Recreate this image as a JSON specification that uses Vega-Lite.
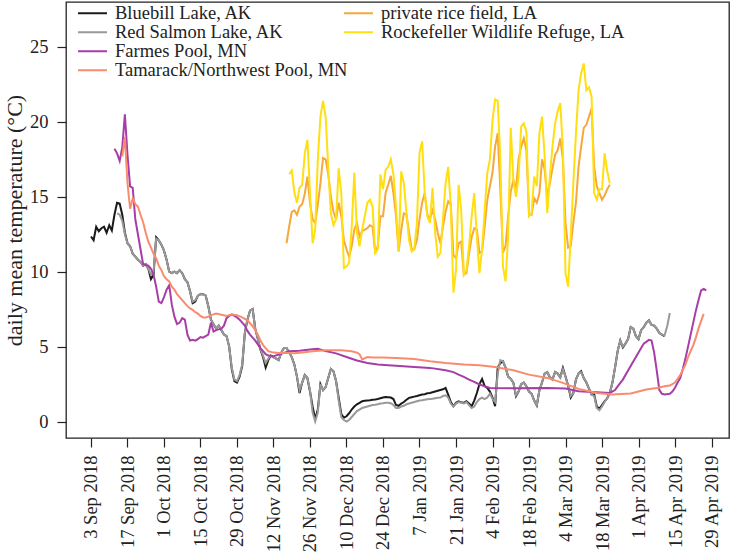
{
"$schema":"https://vega.github.io/schema/vega-lite/v6.json",
"width":663,"height":436,
"autosize":{"type":"none"},
"padding":{"left":66,"top":2,"right":2,"bottom":114},
"background":"white",
"config":{
 "font":"Liberation Serif",
 "view":{"stroke":"#222222","strokeWidth":1.3},
 "axis":{"grid":false,"domain":false,"tickColor":"#222222","tickWidth":1.2,"tickSize":9,"labelFont":"Liberation Serif","labelFontSize":18.5,"labelColor":"#222222","titleFont":"Liberation Serif","titleFontSize":22,"titleFontWeight":"normal","titleColor":"#222222"},
 "legend":{"orient":"none","title":null,"symbolType":"stroke","symbolSize":841,"symbolStrokeWidth":2,"labelFont":"Liberation Serif","labelFontSize":18.5,"labelColor":"#222222","labelOffset":7,"rowPadding":0,"padding":0,"clipHeight":18.7,"labelLimit":400}
},
"datasets":{
 "sites":[{"s":"B","name":"Bluebill Lake, AK"},{"s":"R","name":"Red Salmon Lake, AK"},{"s":"F","name":"Farmes Pool, MN"},{"s":"T","name":"Tamarack/Northwest Pool, MN"},{"s":"P","name":"private rice field, LA"},{"s":"K","name":"Rockefeller Wildlife Refuge, LA"}],
 "temps":[
{"s":"B","d":"2018-09-03","t":12.35},{"s":"B","d":"2018-09-04","t":12.1},{"s":"B","d":"2018-09-05","t":13.0},{"s":"B","d":"2018-09-06","t":12.7},{"s":"B","d":"2018-09-07","t":12.9},{"s":"B","d":"2018-09-08","t":13.0},{"s":"B","d":"2018-09-09","t":12.6},{"s":"B","d":"2018-09-10","t":13.1},{"s":"B","d":"2018-09-11","t":12.75},{"s":"B","d":"2018-09-12","t":13.8},{"s":"B","d":"2018-09-13","t":14.6},{"s":"B","d":"2018-09-14","t":14.55},{"s":"B","d":"2018-09-15","t":13.8},{"s":"B","d":"2018-09-16","t":12.6},{"s":"B","d":"2018-09-17","t":11.9},{"s":"B","d":"2018-09-18","t":11.7},{"s":"B","d":"2018-09-19","t":11.2},{"s":"B","d":"2018-09-20","t":11.0},{"s":"B","d":"2018-09-21","t":10.8},{"s":"B","d":"2018-09-22","t":10.65},{"s":"B","d":"2018-09-23","t":10.4},{"s":"B","d":"2018-09-24","t":10.5},{"s":"B","d":"2018-09-25","t":10.2},{"s":"B","d":"2018-09-26","t":9.5},{"s":"B","d":"2018-09-27","t":9.8},{"s":"B","d":"2018-09-28","t":12.3},{"s":"B","d":"2018-09-29","t":12.1},{"s":"B","d":"2018-09-30","t":11.8},
{"s":"B","d":"2018-10-01","t":11.4},{"s":"B","d":"2018-10-02","t":10.8},{"s":"B","d":"2018-10-03","t":10.0},{"s":"B","d":"2018-10-04","t":9.9},{"s":"B","d":"2018-10-05","t":10.0},{"s":"B","d":"2018-10-06","t":9.9},{"s":"B","d":"2018-10-07","t":10.1},{"s":"B","d":"2018-10-08","t":9.9},{"s":"B","d":"2018-10-09","t":9.5},{"s":"B","d":"2018-10-10","t":9.3},{"s":"B","d":"2018-10-11","t":8.7},{"s":"B","d":"2018-10-12","t":7.9},{"s":"B","d":"2018-10-13","t":8.0},{"s":"B","d":"2018-10-14","t":8.4},{"s":"B","d":"2018-10-15","t":8.5},{"s":"B","d":"2018-10-16","t":8.5},{"s":"B","d":"2018-10-17","t":8.4},{"s":"B","d":"2018-10-18","t":7.7},{"s":"B","d":"2018-10-19","t":6.8},{"s":"B","d":"2018-10-20","t":6.5},{"s":"B","d":"2018-10-21","t":6.2},{"s":"B","d":"2018-10-22","t":6.4},{"s":"B","d":"2018-10-23","t":6.1},{"s":"B","d":"2018-10-24","t":5.8},{"s":"B","d":"2018-10-25","t":5.7},{"s":"B","d":"2018-10-26","t":5.0},{"s":"B","d":"2018-10-27","t":3.5},{"s":"B","d":"2018-10-28","t":2.7},{"s":"B","d":"2018-10-29","t":2.6},{"s":"B","d":"2018-10-30","t":3.0},{"s":"B","d":"2018-10-31","t":3.7},
{"s":"B","d":"2018-11-01","t":5.9},{"s":"B","d":"2018-11-02","t":6.8},{"s":"B","d":"2018-11-03","t":7.4},{"s":"B","d":"2018-11-04","t":7.5},{"s":"B","d":"2018-11-05","t":6.2},{"s":"B","d":"2018-11-06","t":5.5},{"s":"B","d":"2018-11-07","t":4.8},{"s":"B","d":"2018-11-08","t":4.3},{"s":"B","d":"2018-11-09","t":3.6},{"s":"B","d":"2018-11-10","t":4.1},{"s":"B","d":"2018-11-11","t":4.4},{"s":"B","d":"2018-11-12","t":4.3},{"s":"B","d":"2018-11-13","t":4.2},{"s":"B","d":"2018-11-14","t":4.1},{"s":"B","d":"2018-11-15","t":4.6},{"s":"B","d":"2018-11-16","t":4.9},{"s":"B","d":"2018-11-17","t":4.9},{"s":"B","d":"2018-11-18","t":4.6},{"s":"B","d":"2018-11-19","t":4.3},{"s":"B","d":"2018-11-20","t":3.8},{"s":"B","d":"2018-11-21","t":3.0},{"s":"B","d":"2018-11-22","t":1.9},{"s":"B","d":"2018-11-23","t":2.6},{"s":"B","d":"2018-11-24","t":3.1},{"s":"B","d":"2018-11-25","t":2.9},{"s":"B","d":"2018-11-26","t":2.0},{"s":"B","d":"2018-11-27","t":1.0},{"s":"B","d":"2018-11-28","t":0.15},{"s":"B","d":"2018-11-29","t":0.8},{"s":"B","d":"2018-11-30","t":2.5},
{"s":"B","d":"2018-12-01","t":2.1},{"s":"B","d":"2018-12-02","t":2.3},{"s":"B","d":"2018-12-03","t":2.9},{"s":"B","d":"2018-12-04","t":3.5},{"s":"B","d":"2018-12-05","t":3.35},{"s":"B","d":"2018-12-06","t":2.7},{"s":"B","d":"2018-12-07","t":1.6},{"s":"B","d":"2018-12-08","t":0.5},{"s":"B","d":"2018-12-09","t":0.25},{"s":"B","d":"2018-12-10","t":0.35},{"s":"B","d":"2018-12-11","t":0.55},{"s":"B","d":"2018-12-12","t":0.8},{"s":"B","d":"2018-12-13","t":1.0},{"s":"B","d":"2018-12-14","t":1.15},{"s":"B","d":"2018-12-15","t":1.25},{"s":"B","d":"2018-12-16","t":1.35},{"s":"B","d":"2018-12-17","t":1.38},{"s":"B","d":"2018-12-18","t":1.4},{"s":"B","d":"2018-12-19","t":1.42},{"s":"B","d":"2018-12-20","t":1.45},{"s":"B","d":"2018-12-21","t":1.47},{"s":"B","d":"2018-12-22","t":1.5},{"s":"B","d":"2018-12-23","t":1.55},{"s":"B","d":"2018-12-24","t":1.6},{"s":"B","d":"2018-12-25","t":1.64},{"s":"B","d":"2018-12-26","t":1.62},{"s":"B","d":"2018-12-27","t":1.6},{"s":"B","d":"2018-12-28","t":1.5},{"s":"B","d":"2018-12-29","t":1.1},{"s":"B","d":"2018-12-30","t":1.05},{"s":"B","d":"2018-12-31","t":1.2},
{"s":"B","d":"2019-01-01","t":1.3},{"s":"B","d":"2019-01-02","t":1.45},{"s":"B","d":"2019-01-03","t":1.58},{"s":"B","d":"2019-01-04","t":1.62},{"s":"B","d":"2019-01-05","t":1.66},{"s":"B","d":"2019-01-06","t":1.7},{"s":"B","d":"2019-01-07","t":1.75},{"s":"B","d":"2019-01-08","t":1.8},{"s":"B","d":"2019-01-09","t":1.82},{"s":"B","d":"2019-01-10","t":1.88},{"s":"B","d":"2019-01-11","t":1.9},{"s":"B","d":"2019-01-12","t":1.95},{"s":"B","d":"2019-01-13","t":2.0},{"s":"B","d":"2019-01-14","t":2.05},{"s":"B","d":"2019-01-15","t":2.1},{"s":"B","d":"2019-01-16","t":2.15},{"s":"B","d":"2019-01-17","t":2.24},{"s":"B","d":"2019-01-18","t":1.8},{"s":"B","d":"2019-01-19","t":1.3},{"s":"B","d":"2019-01-20","t":1.02},{"s":"B","d":"2019-01-21","t":1.25},{"s":"B","d":"2019-01-22","t":1.35},{"s":"B","d":"2019-01-23","t":1.28},{"s":"B","d":"2019-01-24","t":1.24},{"s":"B","d":"2019-01-25","t":1.35},{"s":"B","d":"2019-01-26","t":1.2},{"s":"B","d":"2019-01-27","t":1.02},{"s":"B","d":"2019-01-28","t":1.4},{"s":"B","d":"2019-01-29","t":1.9},{"s":"B","d":"2019-01-30","t":2.5},{"s":"B","d":"2019-01-31","t":2.84},
{"s":"B","d":"2019-02-01","t":2.36},{"s":"B","d":"2019-02-02","t":2.24},{"s":"B","d":"2019-02-03","t":2.0},{"s":"B","d":"2019-02-04","t":1.6},{"s":"B","d":"2019-02-05","t":1.02},{"s":"B","d":"2019-02-06","t":3.6},{"s":"B","d":"2019-02-07","t":3.9},{"s":"B","d":"2019-02-08","t":4.02},{"s":"B","d":"2019-02-09","t":3.6},{"s":"B","d":"2019-02-10","t":3.0},{"s":"B","d":"2019-02-11","t":2.85},{"s":"B","d":"2019-02-12","t":2.6},{"s":"B","d":"2019-02-13","t":1.69},{"s":"B","d":"2019-02-14","t":2.0},{"s":"B","d":"2019-02-15","t":2.5},{"s":"B","d":"2019-02-16","t":2.6},{"s":"B","d":"2019-02-17","t":2.36},{"s":"B","d":"2019-02-18","t":2.0},{"s":"B","d":"2019-02-19","t":1.85},{"s":"B","d":"2019-02-20","t":1.4},{"s":"B","d":"2019-02-21","t":1.07},{"s":"B","d":"2019-02-22","t":2.1},{"s":"B","d":"2019-02-23","t":2.6},{"s":"B","d":"2019-02-24","t":3.2},{"s":"B","d":"2019-02-25","t":3.3},{"s":"B","d":"2019-02-26","t":2.95},{"s":"B","d":"2019-02-27","t":2.8},{"s":"B","d":"2019-02-28","t":3.3},
{"s":"B","d":"2019-03-01","t":3.2},{"s":"B","d":"2019-03-02","t":2.95},{"s":"B","d":"2019-03-03","t":3.58},{"s":"B","d":"2019-03-04","t":3.0},{"s":"B","d":"2019-03-05","t":2.4},{"s":"B","d":"2019-03-06","t":1.6},{"s":"B","d":"2019-03-07","t":1.9},{"s":"B","d":"2019-03-08","t":2.8},{"s":"B","d":"2019-03-09","t":3.2},{"s":"B","d":"2019-03-10","t":3.36},{"s":"B","d":"2019-03-11","t":2.9},{"s":"B","d":"2019-03-12","t":2.6},{"s":"B","d":"2019-03-13","t":2.2},{"s":"B","d":"2019-03-14","t":1.8},{"s":"B","d":"2019-03-15","t":1.8},{"s":"B","d":"2019-03-16","t":1.0},{"s":"B","d":"2019-03-17","t":0.85},{"s":"B","d":"2019-03-18","t":1.1},{"s":"B","d":"2019-03-19","t":1.35},{"s":"B","d":"2019-03-20","t":1.55},{"s":"B","d":"2019-03-21","t":1.9},{"s":"B","d":"2019-03-22","t":2.6},{"s":"B","d":"2019-03-23","t":3.6},{"s":"B","d":"2019-03-24","t":4.7},{"s":"B","d":"2019-03-25","t":5.4},{"s":"B","d":"2019-03-26","t":4.95},{"s":"B","d":"2019-03-27","t":5.2},{"s":"B","d":"2019-03-28","t":5.5},{"s":"B","d":"2019-03-29","t":6.3},{"s":"B","d":"2019-03-30","t":6.2},{"s":"B","d":"2019-03-31","t":5.7},
{"s":"B","d":"2019-04-01","t":5.5},{"s":"B","d":"2019-04-02","t":6.1},{"s":"B","d":"2019-04-03","t":6.3},{"s":"B","d":"2019-04-04","t":6.6},{"s":"B","d":"2019-04-05","t":6.75},{"s":"B","d":"2019-04-06","t":6.45},{"s":"B","d":"2019-04-07","t":6.4},{"s":"B","d":"2019-04-08","t":6.2},{"s":"B","d":"2019-04-09","t":5.9},{"s":"B","d":"2019-04-10","t":5.8},{"s":"B","d":"2019-04-11","t":5.7},

{"s":"R","d":"2018-09-13","t":13.9},{"s":"R","d":"2018-09-14","t":13.8},{"s":"R","d":"2018-09-15","t":13.4},{"s":"R","d":"2018-09-16","t":12.5},{"s":"R","d":"2018-09-17","t":11.9},{"s":"R","d":"2018-09-18","t":11.7},{"s":"R","d":"2018-09-19","t":11.2},{"s":"R","d":"2018-09-20","t":11.0},{"s":"R","d":"2018-09-21","t":10.8},{"s":"R","d":"2018-09-22","t":10.65},{"s":"R","d":"2018-09-23","t":10.4},{"s":"R","d":"2018-09-24","t":10.5},{"s":"R","d":"2018-09-25","t":10.2},{"s":"R","d":"2018-09-26","t":9.8},{"s":"R","d":"2018-09-27","t":10.0},{"s":"R","d":"2018-09-28","t":12.2},{"s":"R","d":"2018-09-29","t":12.1},{"s":"R","d":"2018-09-30","t":11.8},
{"s":"R","d":"2018-10-01","t":11.4},{"s":"R","d":"2018-10-02","t":10.8},{"s":"R","d":"2018-10-03","t":10.0},{"s":"R","d":"2018-10-04","t":9.9},{"s":"R","d":"2018-10-05","t":10.0},{"s":"R","d":"2018-10-06","t":9.9},{"s":"R","d":"2018-10-07","t":10.1},{"s":"R","d":"2018-10-08","t":9.9},{"s":"R","d":"2018-10-09","t":9.5},{"s":"R","d":"2018-10-10","t":9.3},{"s":"R","d":"2018-10-11","t":8.7},{"s":"R","d":"2018-10-12","t":8.0},{"s":"R","d":"2018-10-13","t":8.1},{"s":"R","d":"2018-10-14","t":8.4},{"s":"R","d":"2018-10-15","t":8.5},{"s":"R","d":"2018-10-16","t":8.5},{"s":"R","d":"2018-10-17","t":8.4},{"s":"R","d":"2018-10-18","t":7.7},{"s":"R","d":"2018-10-19","t":6.8},{"s":"R","d":"2018-10-20","t":6.5},{"s":"R","d":"2018-10-21","t":6.2},{"s":"R","d":"2018-10-22","t":6.4},{"s":"R","d":"2018-10-23","t":6.1},{"s":"R","d":"2018-10-24","t":5.8},{"s":"R","d":"2018-10-25","t":5.7},{"s":"R","d":"2018-10-26","t":5.0},{"s":"R","d":"2018-10-27","t":3.6},{"s":"R","d":"2018-10-28","t":2.8},{"s":"R","d":"2018-10-29","t":2.7},{"s":"R","d":"2018-10-30","t":3.1},{"s":"R","d":"2018-10-31","t":3.8},
{"s":"R","d":"2018-11-01","t":5.9},{"s":"R","d":"2018-11-02","t":6.8},{"s":"R","d":"2018-11-03","t":7.4},{"s":"R","d":"2018-11-04","t":7.5},{"s":"R","d":"2018-11-05","t":6.2},{"s":"R","d":"2018-11-06","t":5.5},{"s":"R","d":"2018-11-07","t":4.8},{"s":"R","d":"2018-11-08","t":4.4},{"s":"R","d":"2018-11-09","t":3.9},{"s":"R","d":"2018-11-10","t":4.2},{"s":"R","d":"2018-11-11","t":4.4},{"s":"R","d":"2018-11-12","t":4.3},{"s":"R","d":"2018-11-13","t":4.2},{"s":"R","d":"2018-11-14","t":4.1},{"s":"R","d":"2018-11-15","t":4.6},{"s":"R","d":"2018-11-16","t":4.9},{"s":"R","d":"2018-11-17","t":4.9},{"s":"R","d":"2018-11-18","t":4.6},{"s":"R","d":"2018-11-19","t":4.3},{"s":"R","d":"2018-11-20","t":3.8},{"s":"R","d":"2018-11-21","t":3.0},{"s":"R","d":"2018-11-22","t":2.1},{"s":"R","d":"2018-11-23","t":2.6},{"s":"R","d":"2018-11-24","t":3.1},{"s":"R","d":"2018-11-25","t":2.9},{"s":"R","d":"2018-11-26","t":2.1},{"s":"R","d":"2018-11-27","t":0.6},{"s":"R","d":"2018-11-28","t":0.0},{"s":"R","d":"2018-11-29","t":0.6},{"s":"R","d":"2018-11-30","t":2.5},
{"s":"R","d":"2018-12-01","t":2.1},{"s":"R","d":"2018-12-02","t":2.3},{"s":"R","d":"2018-12-03","t":2.9},{"s":"R","d":"2018-12-04","t":3.5},{"s":"R","d":"2018-12-05","t":3.35},{"s":"R","d":"2018-12-06","t":2.7},{"s":"R","d":"2018-12-07","t":1.4},{"s":"R","d":"2018-12-08","t":0.3},{"s":"R","d":"2018-12-09","t":0.1},{"s":"R","d":"2018-12-10","t":0.0},{"s":"R","d":"2018-12-11","t":0.1},{"s":"R","d":"2018-12-12","t":0.3},{"s":"R","d":"2018-12-13","t":0.5},{"s":"R","d":"2018-12-14","t":0.7},{"s":"R","d":"2018-12-15","t":0.8},{"s":"R","d":"2018-12-16","t":0.9},{"s":"R","d":"2018-12-17","t":0.95},{"s":"R","d":"2018-12-18","t":1.0},{"s":"R","d":"2018-12-19","t":1.05},{"s":"R","d":"2018-12-20","t":1.1},{"s":"R","d":"2018-12-21","t":1.12},{"s":"R","d":"2018-12-22","t":1.15},{"s":"R","d":"2018-12-23","t":1.2},{"s":"R","d":"2018-12-24","t":1.22},{"s":"R","d":"2018-12-25","t":1.25},{"s":"R","d":"2018-12-26","t":1.25},{"s":"R","d":"2018-12-27","t":1.22},{"s":"R","d":"2018-12-28","t":1.1},{"s":"R","d":"2018-12-29","t":0.9},{"s":"R","d":"2018-12-30","t":0.9},{"s":"R","d":"2018-12-31","t":1.0},
{"s":"R","d":"2019-01-01","t":1.05},{"s":"R","d":"2019-01-02","t":1.15},{"s":"R","d":"2019-01-03","t":1.2},{"s":"R","d":"2019-01-04","t":1.25},{"s":"R","d":"2019-01-05","t":1.3},{"s":"R","d":"2019-01-06","t":1.35},{"s":"R","d":"2019-01-07","t":1.4},{"s":"R","d":"2019-01-08","t":1.42},{"s":"R","d":"2019-01-09","t":1.45},{"s":"R","d":"2019-01-10","t":1.48},{"s":"R","d":"2019-01-11","t":1.5},{"s":"R","d":"2019-01-12","t":1.52},{"s":"R","d":"2019-01-13","t":1.55},{"s":"R","d":"2019-01-14","t":1.58},{"s":"R","d":"2019-01-15","t":1.6},{"s":"R","d":"2019-01-16","t":1.7},{"s":"R","d":"2019-01-17","t":1.75},{"s":"R","d":"2019-01-18","t":1.6},{"s":"R","d":"2019-01-19","t":1.2},{"s":"R","d":"2019-01-20","t":1.0},{"s":"R","d":"2019-01-21","t":1.2},{"s":"R","d":"2019-01-22","t":1.3},{"s":"R","d":"2019-01-23","t":1.25},{"s":"R","d":"2019-01-24","t":1.2},{"s":"R","d":"2019-01-25","t":1.3},{"s":"R","d":"2019-01-26","t":1.1},{"s":"R","d":"2019-01-27","t":0.9},{"s":"R","d":"2019-01-28","t":1.0},{"s":"R","d":"2019-01-29","t":1.3},{"s":"R","d":"2019-01-30","t":1.5},{"s":"R","d":"2019-01-31","t":1.6},
{"s":"R","d":"2019-02-01","t":1.5},{"s":"R","d":"2019-02-02","t":1.6},{"s":"R","d":"2019-02-03","t":1.85},{"s":"R","d":"2019-02-04","t":1.5},{"s":"R","d":"2019-02-05","t":1.3},{"s":"R","d":"2019-02-06","t":3.2},{"s":"R","d":"2019-02-07","t":4.1},{"s":"R","d":"2019-02-08","t":4.02},{"s":"R","d":"2019-02-09","t":3.6},{"s":"R","d":"2019-02-10","t":3.0},{"s":"R","d":"2019-02-11","t":2.85},{"s":"R","d":"2019-02-12","t":2.6},{"s":"R","d":"2019-02-13","t":1.75},{"s":"R","d":"2019-02-14","t":2.0},{"s":"R","d":"2019-02-15","t":2.5},{"s":"R","d":"2019-02-16","t":2.6},{"s":"R","d":"2019-02-17","t":2.36},{"s":"R","d":"2019-02-18","t":2.0},{"s":"R","d":"2019-02-19","t":1.85},{"s":"R","d":"2019-02-20","t":1.4},{"s":"R","d":"2019-02-21","t":1.1},{"s":"R","d":"2019-02-22","t":2.1},{"s":"R","d":"2019-02-23","t":2.6},{"s":"R","d":"2019-02-24","t":3.2},{"s":"R","d":"2019-02-25","t":3.3},{"s":"R","d":"2019-02-26","t":2.95},{"s":"R","d":"2019-02-27","t":2.8},{"s":"R","d":"2019-02-28","t":3.3},
{"s":"R","d":"2019-03-01","t":3.2},{"s":"R","d":"2019-03-02","t":2.95},{"s":"R","d":"2019-03-03","t":3.5},{"s":"R","d":"2019-03-04","t":3.0},{"s":"R","d":"2019-03-05","t":2.4},{"s":"R","d":"2019-03-06","t":1.7},{"s":"R","d":"2019-03-07","t":1.9},{"s":"R","d":"2019-03-08","t":2.8},{"s":"R","d":"2019-03-09","t":3.2},{"s":"R","d":"2019-03-10","t":3.3},{"s":"R","d":"2019-03-11","t":2.9},{"s":"R","d":"2019-03-12","t":2.6},{"s":"R","d":"2019-03-13","t":2.2},{"s":"R","d":"2019-03-14","t":1.8},{"s":"R","d":"2019-03-15","t":1.7},{"s":"R","d":"2019-03-16","t":0.9},{"s":"R","d":"2019-03-17","t":0.75},{"s":"R","d":"2019-03-18","t":1.0},{"s":"R","d":"2019-03-19","t":1.3},{"s":"R","d":"2019-03-20","t":1.55},{"s":"R","d":"2019-03-21","t":1.9},{"s":"R","d":"2019-03-22","t":2.6},{"s":"R","d":"2019-03-23","t":3.6},{"s":"R","d":"2019-03-24","t":4.7},{"s":"R","d":"2019-03-25","t":5.4},{"s":"R","d":"2019-03-26","t":5.0},{"s":"R","d":"2019-03-27","t":5.2},{"s":"R","d":"2019-03-28","t":5.5},{"s":"R","d":"2019-03-29","t":6.3},{"s":"R","d":"2019-03-30","t":6.2},{"s":"R","d":"2019-03-31","t":5.7},
{"s":"R","d":"2019-04-01","t":5.5},{"s":"R","d":"2019-04-02","t":6.1},{"s":"R","d":"2019-04-03","t":6.3},{"s":"R","d":"2019-04-04","t":6.6},{"s":"R","d":"2019-04-05","t":6.75},{"s":"R","d":"2019-04-06","t":6.45},{"s":"R","d":"2019-04-07","t":6.4},{"s":"R","d":"2019-04-08","t":6.2},{"s":"R","d":"2019-04-09","t":5.9},{"s":"R","d":"2019-04-10","t":5.8},{"s":"R","d":"2019-04-11","t":5.75},{"s":"R","d":"2019-04-12","t":6.36},{"s":"R","d":"2019-04-13","t":7.24},

{"s":"F","d":"2018-09-12","t":18.2},{"s":"F","d":"2018-09-13","t":17.9},{"s":"F","d":"2018-09-14","t":17.4},{"s":"F","d":"2018-09-15","t":18.3},{"s":"F","d":"2018-09-16","t":20.5},{"s":"F","d":"2018-09-17","t":17.8},{"s":"F","d":"2018-09-18","t":15.7},{"s":"F","d":"2018-09-19","t":15.6},{"s":"F","d":"2018-09-20","t":13.5},{"s":"F","d":"2018-09-21","t":12.5},{"s":"F","d":"2018-09-22","t":11.5},{"s":"F","d":"2018-09-23","t":10.5},{"s":"F","d":"2018-09-24","t":10.45},{"s":"F","d":"2018-09-25","t":10.4},{"s":"F","d":"2018-09-26","t":10.2},{"s":"F","d":"2018-09-27","t":9.8},{"s":"F","d":"2018-09-28","t":9.0},{"s":"F","d":"2018-09-29","t":8.0},{"s":"F","d":"2018-09-30","t":7.9},{"s":"F","d":"2018-10-01","t":8.3},{"s":"F","d":"2018-10-02","t":8.8},{"s":"F","d":"2018-10-03","t":9.1},{"s":"F","d":"2018-10-04","t":7.8},{"s":"F","d":"2018-10-05","t":7.0},{"s":"F","d":"2018-10-06","t":6.5},{"s":"F","d":"2018-10-07","t":6.6},{"s":"F","d":"2018-10-08","t":6.9},{"s":"F","d":"2018-10-09","t":6.8},{"s":"F","d":"2018-10-10","t":5.8},{"s":"F","d":"2018-10-11","t":5.4},{"s":"F","d":"2018-10-12","t":5.45},{"s":"F","d":"2018-10-13","t":5.4},{"s":"F","d":"2018-10-14","t":5.5},{"s":"F","d":"2018-10-15","t":5.64},{"s":"F","d":"2018-10-16","t":5.6},{"s":"F","d":"2018-10-17","t":5.7},{"s":"F","d":"2018-10-18","t":5.8},{"s":"F","d":"2018-10-19","t":6.6},{"s":"F","d":"2018-10-20","t":6.0},{"s":"F","d":"2018-10-21","t":6.1},{"s":"F","d":"2018-10-22","t":6.15},{"s":"F","d":"2018-10-23","t":6.2},{"s":"F","d":"2018-10-24","t":6.4},{"s":"F","d":"2018-10-25","t":6.9},{"s":"F","d":"2018-10-26","t":7.05},{"s":"F","d":"2018-10-27","t":7.13},{"s":"F","d":"2018-10-28","t":7.05},{"s":"F","d":"2018-10-29","t":6.95},{"s":"F","d":"2018-10-30","t":6.8},{"s":"F","d":"2018-10-31","t":6.6},{"s":"F","d":"2018-11-01","t":6.4},{"s":"F","d":"2018-11-02","t":6.05},{"s":"F","d":"2018-11-03","t":5.8},{"s":"F","d":"2018-11-04","t":5.6},{"s":"F","d":"2018-11-05","t":5.4},{"s":"F","d":"2018-11-06","t":5.15},{"s":"F","d":"2018-11-07","t":4.9},{"s":"F","d":"2018-11-08","t":4.7},{"s":"F","d":"2018-11-09","t":4.5},{"s":"F","d":"2018-11-10","t":4.4},{"s":"F","d":"2018-11-12","t":4.35},{"s":"F","d":"2018-11-14","t":4.47},{"s":"F","d":"2018-11-16","t":4.58},{"s":"F","d":"2018-11-18","t":4.69},{"s":"F","d":"2018-11-22","t":4.73},{"s":"F","d":"2018-11-26","t":4.8},{"s":"F","d":"2018-11-29","t":4.85},{"s":"F","d":"2018-12-02","t":4.7},{"s":"F","d":"2018-12-06","t":4.55},{"s":"F","d":"2018-12-10","t":4.31},{"s":"F","d":"2018-12-14","t":4.07},{"s":"F","d":"2018-12-18","t":3.91},{"s":"F","d":"2018-12-22","t":3.8},{"s":"F","d":"2018-12-26","t":3.76},{"s":"F","d":"2018-12-29","t":3.73},{"s":"F","d":"2019-01-05","t":3.64},{"s":"F","d":"2019-01-11","t":3.58},{"s":"F","d":"2019-01-17","t":3.42},{"s":"F","d":"2019-01-20","t":3.3},{"s":"F","d":"2019-01-22","t":3.13},{"s":"F","d":"2019-01-24","t":2.98},{"s":"F","d":"2019-01-26","t":2.8},{"s":"F","d":"2019-01-28","t":2.65},{"s":"F","d":"2019-01-30","t":2.47},{"s":"F","d":"2019-02-01","t":2.35},{"s":"F","d":"2019-02-03","t":2.24},{"s":"F","d":"2019-02-12","t":2.22},{"s":"F","d":"2019-02-25","t":2.24},{"s":"F","d":"2019-03-04","t":2.2},{"s":"F","d":"2019-03-09","t":2.02},{"s":"F","d":"2019-03-16","t":1.96},{"s":"F","d":"2019-03-21","t":1.91},{"s":"F","d":"2019-03-23","t":2.1},{"s":"F","d":"2019-03-24","t":2.35},{"s":"F","d":"2019-03-26","t":2.8},{"s":"F","d":"2019-03-29","t":3.7},{"s":"F","d":"2019-03-31","t":4.3},{"s":"F","d":"2019-04-03","t":5.2},{"s":"F","d":"2019-04-05","t":5.45},{"s":"F","d":"2019-04-06","t":5.4},{"s":"F","d":"2019-04-07","t":4.6},{"s":"F","d":"2019-04-08","t":3.4},{"s":"F","d":"2019-04-09","t":2.1},{"s":"F","d":"2019-04-10","t":1.85},{"s":"F","d":"2019-04-11","t":1.8},{"s":"F","d":"2019-04-13","t":1.85},{"s":"F","d":"2019-04-14","t":2.0},{"s":"F","d":"2019-04-15","t":2.25},{"s":"F","d":"2019-04-16","t":2.6},{"s":"F","d":"2019-04-17","t":2.9},{"s":"F","d":"2019-04-18","t":3.5},{"s":"F","d":"2019-04-19","t":4.2},{"s":"F","d":"2019-04-20","t":5.0},{"s":"F","d":"2019-04-21","t":5.8},{"s":"F","d":"2019-04-22","t":6.6},{"s":"F","d":"2019-04-23","t":7.4},{"s":"F","d":"2019-04-24","t":8.1},{"s":"F","d":"2019-04-25","t":8.75},{"s":"F","d":"2019-04-26","t":8.85},{"s":"F","d":"2019-04-27","t":8.75},

{"s":"T","d":"2018-09-15","t":17.7},{"s":"T","d":"2018-09-16","t":19.0},{"s":"T","d":"2018-09-17","t":15.9},{"s":"T","d":"2018-09-18","t":14.2},{"s":"T","d":"2018-09-19","t":14.9},{"s":"T","d":"2018-09-20","t":14.5},{"s":"T","d":"2018-09-21","t":14.35},{"s":"T","d":"2018-09-22","t":13.8},{"s":"T","d":"2018-09-23","t":13.3},{"s":"T","d":"2018-09-24","t":12.6},{"s":"T","d":"2018-09-25","t":12.0},{"s":"T","d":"2018-09-26","t":11.6},{"s":"T","d":"2018-09-27","t":11.2},{"s":"T","d":"2018-09-28","t":10.9},{"s":"T","d":"2018-09-29","t":10.4},{"s":"T","d":"2018-09-30","t":10.1},{"s":"T","d":"2018-10-01","t":9.7},{"s":"T","d":"2018-10-02","t":9.5},{"s":"T","d":"2018-10-03","t":9.35},{"s":"T","d":"2018-10-04","t":9.0},{"s":"T","d":"2018-10-05","t":8.8},{"s":"T","d":"2018-10-06","t":8.5},{"s":"T","d":"2018-10-07","t":8.3},{"s":"T","d":"2018-10-08","t":8.1},{"s":"T","d":"2018-10-09","t":7.9},{"s":"T","d":"2018-10-10","t":7.7},{"s":"T","d":"2018-10-11","t":7.55},{"s":"T","d":"2018-10-12","t":7.45},{"s":"T","d":"2018-10-13","t":7.3},{"s":"T","d":"2018-10-14","t":7.2},{"s":"T","d":"2018-10-15","t":7.05},{"s":"T","d":"2018-10-16","t":6.95},{"s":"T","d":"2018-10-17","t":6.95},{"s":"T","d":"2018-10-18","t":7.0},{"s":"T","d":"2018-10-19","t":7.1},{"s":"T","d":"2018-10-21","t":7.2},{"s":"T","d":"2018-10-23","t":7.13},{"s":"T","d":"2018-10-25","t":7.05},{"s":"T","d":"2018-10-27","t":7.15},{"s":"T","d":"2018-10-29","t":7.1},{"s":"T","d":"2018-10-31","t":6.95},{"s":"T","d":"2018-11-02","t":6.75},{"s":"T","d":"2018-11-04","t":6.36},{"s":"T","d":"2018-11-05","t":6.1},{"s":"T","d":"2018-11-06","t":5.8},{"s":"T","d":"2018-11-07","t":5.4},{"s":"T","d":"2018-11-08","t":5.1},{"s":"T","d":"2018-11-09","t":4.9},{"s":"T","d":"2018-11-10","t":4.7},{"s":"T","d":"2018-11-12","t":4.6},{"s":"T","d":"2018-11-14","t":4.58},{"s":"T","d":"2018-11-17","t":4.58},{"s":"T","d":"2018-11-20","t":4.55},{"s":"T","d":"2018-11-23","t":4.6},{"s":"T","d":"2018-11-27","t":4.69},{"s":"T","d":"2018-12-02","t":4.76},{"s":"T","d":"2018-12-08","t":4.76},{"s":"T","d":"2018-12-12","t":4.69},{"s":"T","d":"2018-12-14","t":4.6},{"s":"T","d":"2018-12-15","t":4.5},{"s":"T","d":"2018-12-16","t":4.15},{"s":"T","d":"2018-12-18","t":4.3},{"s":"T","d":"2018-12-20","t":4.28},{"s":"T","d":"2018-12-24","t":4.28},{"s":"T","d":"2018-12-29","t":4.24},{"s":"T","d":"2019-01-05","t":4.18},{"s":"T","d":"2019-01-11","t":4.02},{"s":"T","d":"2019-01-17","t":3.9},{"s":"T","d":"2019-01-24","t":3.8},{"s":"T","d":"2019-01-30","t":3.75},{"s":"T","d":"2019-02-05","t":3.64},{"s":"T","d":"2019-02-12","t":3.42},{"s":"T","d":"2019-02-18","t":3.13},{"s":"T","d":"2019-02-25","t":2.91},{"s":"T","d":"2019-03-03","t":2.58},{"s":"T","d":"2019-03-09","t":2.18},{"s":"T","d":"2019-03-16","t":1.91},{"s":"T","d":"2019-03-22","t":1.8},{"s":"T","d":"2019-03-29","t":1.87},{"s":"T","d":"2019-04-04","t":2.13},{"s":"T","d":"2019-04-08","t":2.24},{"s":"T","d":"2019-04-11","t":2.35},{"s":"T","d":"2019-04-13","t":2.4},{"s":"T","d":"2019-04-15","t":2.6},{"s":"T","d":"2019-04-17","t":3.1},{"s":"T","d":"2019-04-19","t":3.8},{"s":"T","d":"2019-04-20","t":4.3},{"s":"T","d":"2019-04-21","t":4.7},{"s":"T","d":"2019-04-22","t":5.1},{"s":"T","d":"2019-04-23","t":5.6},{"s":"T","d":"2019-04-24","t":6.2},{"s":"T","d":"2019-04-25","t":6.7},{"s":"T","d":"2019-04-26","t":7.18},

{"s":"P","d":"2018-11-17","t":11.9},{"s":"P","d":"2018-11-18","t":13.0},{"s":"P","d":"2018-11-19","t":14.0},{"s":"P","d":"2018-11-20","t":14.1},{"s":"P","d":"2018-11-21","t":13.8},{"s":"P","d":"2018-11-22","t":14.35},{"s":"P","d":"2018-11-23","t":14.5},{"s":"P","d":"2018-11-24","t":15.2},{"s":"P","d":"2018-11-25","t":16.35},{"s":"P","d":"2018-11-26","t":14.6},{"s":"P","d":"2018-11-27","t":13.5},{"s":"P","d":"2018-11-28","t":13.25},{"s":"P","d":"2018-11-29","t":14.5},{"s":"P","d":"2018-11-30","t":15.9},{"s":"P","d":"2018-12-01","t":17.6},{"s":"P","d":"2018-12-02","t":17.5},{"s":"P","d":"2018-12-03","t":16.5},{"s":"P","d":"2018-12-04","t":15.0},{"s":"P","d":"2018-12-05","t":14.0},{"s":"P","d":"2018-12-06","t":13.5},{"s":"P","d":"2018-12-07","t":14.6},{"s":"P","d":"2018-12-08","t":13.7},{"s":"P","d":"2018-12-09","t":12.1},{"s":"P","d":"2018-12-10","t":11.5},{"s":"P","d":"2018-12-11","t":11.0},{"s":"P","d":"2018-12-12","t":11.7},{"s":"P","d":"2018-12-13","t":12.8},{"s":"P","d":"2018-12-14","t":13.25},{"s":"P","d":"2018-12-15","t":12.35},{"s":"P","d":"2018-12-16","t":12.7},{"s":"P","d":"2018-12-17","t":12.8},{"s":"P","d":"2018-12-18","t":12.9},{"s":"P","d":"2018-12-19","t":13.1},{"s":"P","d":"2018-12-20","t":13.0},{"s":"P","d":"2018-12-21","t":11.25},{"s":"P","d":"2018-12-22","t":11.7},{"s":"P","d":"2018-12-23","t":13.7},{"s":"P","d":"2018-12-24","t":13.7},{"s":"P","d":"2018-12-25","t":15.25},{"s":"P","d":"2018-12-26","t":15.8},{"s":"P","d":"2018-12-27","t":16.4},{"s":"P","d":"2018-12-28","t":15.25},{"s":"P","d":"2018-12-29","t":13.7},{"s":"P","d":"2018-12-30","t":11.35},{"s":"P","d":"2018-12-31","t":12.8},
{"s":"P","d":"2019-01-01","t":13.9},{"s":"P","d":"2019-01-02","t":13.8},{"s":"P","d":"2019-01-03","t":12.6},{"s":"P","d":"2019-01-04","t":11.5},{"s":"P","d":"2019-01-05","t":11.5},{"s":"P","d":"2019-01-06","t":12.1},{"s":"P","d":"2019-01-07","t":13.5},{"s":"P","d":"2019-01-08","t":14.6},{"s":"P","d":"2019-01-09","t":15.25},{"s":"P","d":"2019-01-10","t":13.8},{"s":"P","d":"2019-01-11","t":13.5},{"s":"P","d":"2019-01-12","t":14.1},{"s":"P","d":"2019-01-13","t":13.5},{"s":"P","d":"2019-01-14","t":12.6},{"s":"P","d":"2019-01-15","t":11.9},{"s":"P","d":"2019-01-16","t":13.0},{"s":"P","d":"2019-01-17","t":14.0},{"s":"P","d":"2019-01-18","t":14.7},{"s":"P","d":"2019-01-19","t":14.5},{"s":"P","d":"2019-01-20","t":11.1},{"s":"P","d":"2019-01-21","t":10.9},{"s":"P","d":"2019-01-22","t":11.9},{"s":"P","d":"2019-01-23","t":12.0},{"s":"P","d":"2019-01-24","t":9.8},{"s":"P","d":"2019-01-25","t":9.9},{"s":"P","d":"2019-01-26","t":11.2},{"s":"P","d":"2019-01-27","t":12.3},{"s":"P","d":"2019-01-28","t":12.9},{"s":"P","d":"2019-01-29","t":12.8},{"s":"P","d":"2019-01-30","t":11.25},{"s":"P","d":"2019-01-31","t":11.35},
{"s":"P","d":"2019-02-01","t":13.0},{"s":"P","d":"2019-02-02","t":14.8},{"s":"P","d":"2019-02-03","t":15.7},{"s":"P","d":"2019-02-04","t":16.6},{"s":"P","d":"2019-02-05","t":18.35},{"s":"P","d":"2019-02-06","t":19.25},{"s":"P","d":"2019-02-07","t":15.5},{"s":"P","d":"2019-02-08","t":11.25},{"s":"P","d":"2019-02-09","t":11.7},{"s":"P","d":"2019-02-10","t":13.7},{"s":"P","d":"2019-02-11","t":15.35},{"s":"P","d":"2019-02-12","t":16.1},{"s":"P","d":"2019-02-13","t":15.5},{"s":"P","d":"2019-02-14","t":17.5},{"s":"P","d":"2019-02-15","t":18.35},{"s":"P","d":"2019-02-16","t":18.9},{"s":"P","d":"2019-02-17","t":18.1},{"s":"P","d":"2019-02-18","t":13.9},{"s":"P","d":"2019-02-19","t":13.8},{"s":"P","d":"2019-02-20","t":14.9},{"s":"P","d":"2019-02-21","t":14.6},{"s":"P","d":"2019-02-22","t":15.25},{"s":"P","d":"2019-02-23","t":17.5},{"s":"P","d":"2019-02-24","t":16.8},{"s":"P","d":"2019-02-25","t":15.0},{"s":"P","d":"2019-02-26","t":15.9},{"s":"P","d":"2019-02-27","t":16.9},{"s":"P","d":"2019-02-28","t":17.8},
{"s":"P","d":"2019-03-01","t":18.1},{"s":"P","d":"2019-03-02","t":18.9},{"s":"P","d":"2019-03-03","t":17.5},{"s":"P","d":"2019-03-04","t":13.25},{"s":"P","d":"2019-03-05","t":11.6},{"s":"P","d":"2019-03-06","t":11.7},{"s":"P","d":"2019-03-07","t":13.25},{"s":"P","d":"2019-03-08","t":14.6},{"s":"P","d":"2019-03-09","t":17.0},{"s":"P","d":"2019-03-10","t":18.35},{"s":"P","d":"2019-03-11","t":19.6},{"s":"P","d":"2019-03-12","t":19.8},{"s":"P","d":"2019-03-13","t":20.35},{"s":"P","d":"2019-03-14","t":20.9},{"s":"P","d":"2019-03-15","t":17.0},{"s":"P","d":"2019-03-16","t":15.7},{"s":"P","d":"2019-03-17","t":15.25},{"s":"P","d":"2019-03-18","t":14.8},{"s":"P","d":"2019-03-19","t":15.1},{"s":"P","d":"2019-03-20","t":15.5},{"s":"P","d":"2019-03-21","t":15.8},

{"s":"K","d":"2018-11-18","t":16.5},{"s":"K","d":"2018-11-19","t":16.75},{"s":"K","d":"2018-11-20","t":15.3},{"s":"K","d":"2018-11-21","t":14.6},{"s":"K","d":"2018-11-22","t":15.6},{"s":"K","d":"2018-11-23","t":15.8},{"s":"K","d":"2018-11-24","t":17.9},{"s":"K","d":"2018-11-25","t":18.8},{"s":"K","d":"2018-11-26","t":15.25},{"s":"K","d":"2018-11-27","t":11.9},{"s":"K","d":"2018-11-28","t":12.8},{"s":"K","d":"2018-11-29","t":17.5},{"s":"K","d":"2018-11-30","t":20.35},{"s":"K","d":"2018-12-01","t":21.4},{"s":"K","d":"2018-12-02","t":20.35},{"s":"K","d":"2018-12-03","t":17.0},{"s":"K","d":"2018-12-04","t":13.9},{"s":"K","d":"2018-12-05","t":13.1},{"s":"K","d":"2018-12-06","t":13.5},{"s":"K","d":"2018-12-07","t":16.9},{"s":"K","d":"2018-12-08","t":15.25},{"s":"K","d":"2018-12-09","t":10.25},{"s":"K","d":"2018-12-10","t":10.35},{"s":"K","d":"2018-12-11","t":10.6},{"s":"K","d":"2018-12-12","t":13.0},{"s":"K","d":"2018-12-13","t":16.6},{"s":"K","d":"2018-12-14","t":12.6},{"s":"K","d":"2018-12-15","t":11.7},{"s":"K","d":"2018-12-16","t":12.8},{"s":"K","d":"2018-12-17","t":13.7},{"s":"K","d":"2018-12-18","t":14.6},{"s":"K","d":"2018-12-19","t":14.8},{"s":"K","d":"2018-12-20","t":14.35},{"s":"K","d":"2018-12-21","t":11.25},{"s":"K","d":"2018-12-22","t":11.5},{"s":"K","d":"2018-12-23","t":16.5},{"s":"K","d":"2018-12-24","t":15.5},{"s":"K","d":"2018-12-25","t":16.8},{"s":"K","d":"2018-12-26","t":17.0},{"s":"K","d":"2018-12-27","t":17.5},{"s":"K","d":"2018-12-28","t":16.5},{"s":"K","d":"2018-12-29","t":14.35},{"s":"K","d":"2018-12-30","t":11.35},{"s":"K","d":"2018-12-31","t":16.7},
{"s":"K","d":"2019-01-01","t":15.9},{"s":"K","d":"2019-01-02","t":13.9},{"s":"K","d":"2019-01-03","t":12.1},{"s":"K","d":"2019-01-04","t":11.35},{"s":"K","d":"2019-01-05","t":11.5},{"s":"K","d":"2019-01-06","t":13.25},{"s":"K","d":"2019-01-07","t":17.9},{"s":"K","d":"2019-01-08","t":18.7},{"s":"K","d":"2019-01-09","t":15.25},{"s":"K","d":"2019-01-10","t":13.7},{"s":"K","d":"2019-01-11","t":13.25},{"s":"K","d":"2019-01-12","t":15.6},{"s":"K","d":"2019-01-13","t":12.6},{"s":"K","d":"2019-01-14","t":11.0},{"s":"K","d":"2019-01-15","t":11.25},{"s":"K","d":"2019-01-16","t":13.5},{"s":"K","d":"2019-01-17","t":15.9},{"s":"K","d":"2019-01-18","t":17.0},{"s":"K","d":"2019-01-19","t":14.35},{"s":"K","d":"2019-01-20","t":8.6},{"s":"K","d":"2019-01-21","t":10.1},{"s":"K","d":"2019-01-22","t":15.8},{"s":"K","d":"2019-01-23","t":14.1},{"s":"K","d":"2019-01-24","t":9.8},{"s":"K","d":"2019-01-25","t":10.1},{"s":"K","d":"2019-01-26","t":11.7},{"s":"K","d":"2019-01-27","t":13.7},{"s":"K","d":"2019-01-28","t":15.25},{"s":"K","d":"2019-01-29","t":12.35},{"s":"K","d":"2019-01-30","t":9.9},{"s":"K","d":"2019-01-31","t":11.5},
{"s":"K","d":"2019-02-01","t":14.1},{"s":"K","d":"2019-02-02","t":16.6},{"s":"K","d":"2019-02-03","t":17.5},{"s":"K","d":"2019-02-04","t":20.1},{"s":"K","d":"2019-02-05","t":21.5},{"s":"K","d":"2019-02-06","t":21.4},{"s":"K","d":"2019-02-07","t":17.5},{"s":"K","d":"2019-02-08","t":10.35},{"s":"K","d":"2019-02-09","t":9.35},{"s":"K","d":"2019-02-10","t":12.35},{"s":"K","d":"2019-02-11","t":19.6},{"s":"K","d":"2019-02-12","t":16.1},{"s":"K","d":"2019-02-13","t":15.0},{"s":"K","d":"2019-02-14","t":16.35},{"s":"K","d":"2019-02-15","t":19.7},{"s":"K","d":"2019-02-16","t":19.9},{"s":"K","d":"2019-02-17","t":19.35},{"s":"K","d":"2019-02-18","t":13.7},{"s":"K","d":"2019-02-19","t":13.9},{"s":"K","d":"2019-02-20","t":16.35},{"s":"K","d":"2019-02-21","t":15.7},{"s":"K","d":"2019-02-22","t":19.25},{"s":"K","d":"2019-02-23","t":20.35},{"s":"K","d":"2019-02-24","t":17.7},{"s":"K","d":"2019-02-25","t":13.9},{"s":"K","d":"2019-02-26","t":16.35},{"s":"K","d":"2019-02-27","t":18.35},{"s":"K","d":"2019-02-28","t":19.9},
{"s":"K","d":"2019-03-01","t":20.7},{"s":"K","d":"2019-03-02","t":21.25},{"s":"K","d":"2019-03-03","t":18.1},{"s":"K","d":"2019-03-04","t":9.9},{"s":"K","d":"2019-03-05","t":9.0},{"s":"K","d":"2019-03-06","t":12.35},{"s":"K","d":"2019-03-07","t":15.9},{"s":"K","d":"2019-03-08","t":19.25},{"s":"K","d":"2019-03-09","t":22.1},{"s":"K","d":"2019-03-10","t":23.25},{"s":"K","d":"2019-03-11","t":23.9},{"s":"K","d":"2019-03-12","t":22.1},{"s":"K","d":"2019-03-13","t":22.3},{"s":"K","d":"2019-03-14","t":21.7},{"s":"K","d":"2019-03-15","t":15.25},{"s":"K","d":"2019-03-16","t":14.8},{"s":"K","d":"2019-03-17","t":15.5},{"s":"K","d":"2019-03-18","t":15.5},{"s":"K","d":"2019-03-19","t":17.9},{"s":"K","d":"2019-03-20","t":16.7},{"s":"K","d":"2019-03-21","t":15.9}
 ]
},
"data":{"name":"temps"},
"transform":[{"lookup":"s","from":{"data":{"name":"sites"},"key":"s","fields":["name"]}}],
"encoding":{
 "x":{"field":"d","type":"temporal",
  "scale":{"type":"utc","domain":[{"year":2018,"month":8,"date":24,"hours":10,"utc":true},{"year":2019,"month":5,"date":5,"hours":17,"utc":true}]},
  "axis":{"title":null,"labelExpr":"utcFormat(datum.value, '%-d %b %Y')","labelAngle":-90,"labelAlign":"right","labelBaseline":"middle","labelPadding":8,"labelOverlap":false,
   "values":[{"year":2018,"month":9,"date":3,"utc":true},{"year":2018,"month":9,"date":17,"utc":true},{"year":2018,"month":10,"date":1,"utc":true},{"year":2018,"month":10,"date":15,"utc":true},{"year":2018,"month":10,"date":29,"utc":true},{"year":2018,"month":11,"date":12,"utc":true},{"year":2018,"month":11,"date":26,"utc":true},{"year":2018,"month":12,"date":10,"utc":true},{"year":2018,"month":12,"date":24,"utc":true},{"year":2019,"month":1,"date":7,"utc":true},{"year":2019,"month":1,"date":21,"utc":true},{"year":2019,"month":2,"date":4,"utc":true},{"year":2019,"month":2,"date":18,"utc":true},{"year":2019,"month":3,"date":4,"utc":true},{"year":2019,"month":3,"date":18,"utc":true},{"year":2019,"month":4,"date":1,"utc":true},{"year":2019,"month":4,"date":15,"utc":true},{"year":2019,"month":4,"date":29,"utc":true}]}},
 "y":{"field":"t","type":"quantitative","scale":{"domain":[-1.1,28],"nice":false,"zero":false},
  "axis":{"title":"daily mean temperature (°C)","values":[0,5,10,15,20,25],"labelPadding":9,"titlePadding":3}}
},
"layer":[
 {"transform":[{"filter":{"field":"s","oneOf":["B","R","F","T"]}}],
  "mark":{"type":"line","strokeWidth":2,"clip":true},
  "encoding":{"color":{"field":"name","type":"nominal",
    "scale":{"domain":["Bluebill Lake, AK","Red Salmon Lake, AK","Farmes Pool, MN","Tamarack/Northwest Pool, MN"],"range":["#1a1a1a","#999999","#a73da6","#f98b6e"]},
    "legend":{"legendX":11,"legendY":2}}}},
 {"transform":[{"filter":{"field":"s","oneOf":["P","K"]}}],
  "mark":{"type":"line","strokeWidth":2,"clip":true},
  "encoding":{"stroke":{"field":"name","type":"nominal",
    "scale":{"domain":["private rice field, LA","Rockefeller Wildlife Refuge, LA"],"range":["#f6a83c","#ffdf10"]},
    "legend":{"legendX":277,"legendY":2}}}}
]
}
